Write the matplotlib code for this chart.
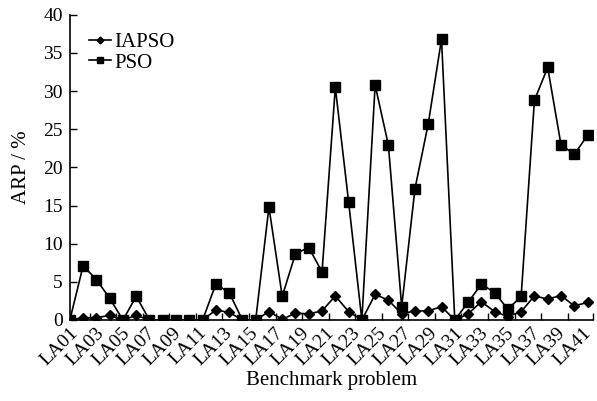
import numpy as np
import matplotlib
matplotlib.use('Agg')
import matplotlib.pyplot as plt

plt.rcParams['font.family'] = ['Liberation Serif', 'DejaVu Serif']

# ARP (%) per benchmark problem
problems = ['LA%02d' % i for i in range(1, 41)]
tick_names = ['LA%02d' % i for i in range(1, 42, 2)]

iapso = [0, 0.3, 0.3, 0.6, 0, 0.6, 0, 0, 0, 0,
         0, 1.3, 1.0, 0, 0, 1.1, 0.1, 0.9, 0.8, 1.2,
         3.15, 1.1, 0, 3.35, 2.6, 0.8, 1.2, 1.2, 1.75, 0,
         0.8, 2.4, 1.1, 0.45, 1.1, 3.15, 2.75, 3.2, 1.85, 2.3]

pso = [0, 7.1, 5.3, 2.85, 0, 3.1, 0, 0, 0, 0,
       0, 4.7, 3.6, 0, 0, 14.8, 3.1, 8.7, 9.5, 6.3,
       30.5, 15.5, 0, 30.8, 22.9, 1.75, 17.2, 25.7, 36.8, 0,
       2.3, 4.7, 3.6, 1.4, 3.1, 28.8, 33.1, 23.0, 21.7, 24.2]

x = np.arange(len(problems))

fig = plt.figure(figsize=(5.97, 4.01), dpi=100)
ax = fig.add_axes([0.117, 0.202, 0.876, 0.761])

ax.plot(x, iapso, color='black', lw=1.2, marker='D', ms=5, label='IAPSO')
ax.plot(x, pso, color='black', lw=1.2, marker='s', ms=6.5, label='PSO')

xmax = len(problems) - 0.6
ax.set_xlim(0, xmax)
ax.set_ylim(0, 40)
ax.set_yticks(np.arange(0, 41, 5))

ax.set_xticks(np.linspace(0, xmax - 0.8, len(tick_names)))
ax.set_xticklabels(tick_names, rotation=45, ha='right', va='top',
                   rotation_mode='anchor', fontsize=14)
ax.tick_params(axis='x', which='major', length=0, pad=3)
ax.set_xticks(list(np.arange(1.5, xmax, 2)) + [xmax], minor=True)
ax.tick_params(axis='x', which='minor', direction='in', length=5, width=1)
ax.tick_params(axis='y', direction='in', length=5, width=1, labelsize=14, pad=5)

for s in ['top', 'right']:
    ax.spines[s].set_visible(False)
for s in ['left', 'bottom']:
    ax.spines[s].set_linewidth(1.2)

ax.set_xlabel('Benchmark problem', fontsize=15, labelpad=2)
ax.set_ylabel('ARP / %', fontsize=15, labelpad=9)

ax.legend(loc='upper left', bbox_to_anchor=(0.02, 0.97), frameon=False,
          fontsize=15, handlelength=1.05, handletextpad=0.2, labelspacing=0.05,
          markerscale=0.7, borderaxespad=0)

fig.savefig('out.png', dpi=100)
